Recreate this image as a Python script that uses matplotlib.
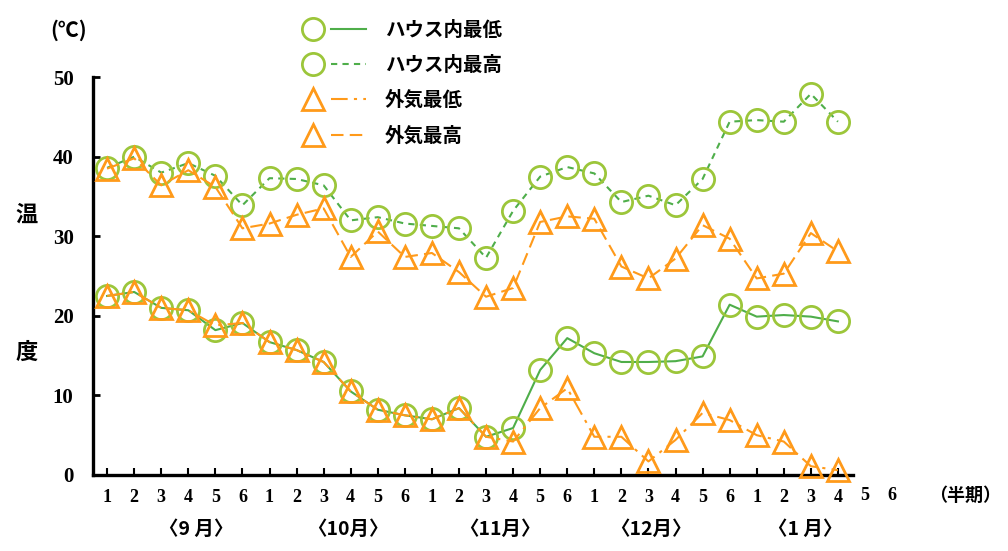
import matplotlib
matplotlib.use("Agg")
import matplotlib.pyplot as plt
import matplotlib.transforms as mtransforms
from matplotlib.lines import Line2D
from matplotlib.legend_handler import HandlerTuple

# ---- data ----
half_labels = ["1", "2", "3", "4", "5", "6"] * 5
months = ["〈9 月〉", "〈10月〉", "〈11月〉", "〈12月〉", "〈1 月〉"]
month_pos = [3.3, 8.9, 14.5, 20.1, 25.8]

house_min = [22.5, 23.0, 21.0, 20.7, 18.2, 19.1, 16.7, 15.7, 14.2, 10.5,
             8.2, 7.5, 7.0, 8.4, 4.8, 5.9, 13.2, 17.2, 15.3, 14.2,
             14.2, 14.3, 14.9, 21.4, 19.9, 20.1, 19.9, 19.3]
house_max = [38.6, 40.0, 38.0, 39.2, 37.6, 33.9, 37.3, 37.2, 36.4, 32.0,
             32.4, 31.6, 31.3, 31.0, 27.3, 33.2, 37.5, 38.7, 37.9, 34.3,
             35.1, 33.9, 37.2, 44.4, 44.6, 44.4, 47.9, 44.4]
out_min = [22.5, 23.0, 21.0, 20.7, 18.8, 19.1, 16.7, 15.7, 14.2, 10.5,
           8.2, 7.5, 7.0, 8.4, 4.8, 4.2, 8.4, 10.9, 4.8, 4.8,
           1.7, 4.4, 7.8, 6.9, 5.0, 4.2, 1.1, 0.6]
out_max = [38.5, 39.8, 36.4, 38.3, 36.2, 31.0, 31.6, 32.7, 33.5, 27.4,
           30.6, 27.4, 27.9, 25.5, 22.4, 23.5, 31.8, 32.5, 32.2, 26.2,
           24.7, 27.2, 31.4, 29.7, 24.7, 25.3, 30.4, 28.1]
series_names = ["ハウス内最低", "ハウス内最高", "外気最低", "外気最高"]

GREEN_LINE = "#4fae4a"
CIRCLE = "#9cc63a"
ORANGE = "#ff9a1a"
JP = ["Noto Sans CJK JP", "DejaVu Sans"]
NUM = "Liberation Serif"

fig = plt.figure(figsize=(10.08, 5.51), dpi=100)
ax = fig.add_axes([0.0923, 0.138, 0.754, 0.722])

x = list(range(len(house_min)))
ms_c = 16
ms_t = 16
mew = 2.0
lw = 1.5

ax.plot(x, house_min, color=GREEN_LINE, lw=lw, ls="-", zorder=2, clip_on=False)
ax.plot(x, house_min, ls="none", marker="o", ms=ms_c, mfc="none", mec=CIRCLE, mew=mew, zorder=3, clip_on=False)
ax.plot(x, house_max, color=GREEN_LINE, lw=lw, ls=(0, (3, 2.5)), zorder=2, clip_on=False)
ax.plot(x, house_max, ls="none", marker="o", ms=ms_c, mfc="none", mec=CIRCLE, mew=mew, zorder=3, clip_on=False)
ax.plot(x, out_min, color=ORANGE, lw=lw, ls=(0, (8, 3, 1.5, 3)), zorder=4, clip_on=False)
ax.plot(x, out_min, ls="none", marker="^", ms=ms_t, mfc="none", mec=ORANGE, mew=mew, zorder=5, clip_on=False)
ax.plot(x, out_max, color=ORANGE, lw=lw, ls=(0, (6, 3)), zorder=4, clip_on=False)
ax.plot(x, out_max, ls="none", marker="^", ms=ms_t, mfc="none", mec=ORANGE, mew=mew, zorder=5, clip_on=False)

ax.set_xlim(-0.52, 27.56)
ax.set_ylim(0, 50)
for s in ["top", "right"]:
    ax.spines[s].set_visible(False)
for s in ["left", "bottom"]:
    ax.spines[s].set_linewidth(2.4)
    ax.spines[s].set_color("black")

ax.set_yticks([0, 10, 20, 30, 40, 50])
ax.set_yticklabels(["0", "10", "20", "30", "40", "50"], fontfamily=NUM,
                   fontweight="bold", fontsize=15)
ax.tick_params(axis="y", direction="in", length=5, width=2, pad=14)
ax.set_xticks(x)
ax.set_xticklabels(half_labels[:len(x)], fontfamily=NUM, fontweight="bold", fontsize=13)
ax.tick_params(axis="x", direction="in", length=5, width=1.5, pad=10)

trans = mtransforms.blended_transform_factory(ax.transData, ax.transAxes)
for i in range(len(x), len(half_labels)):
    ax.text(i, -0.052, half_labels[i], transform=trans, ha="center", va="center",
            fontfamily=NUM, fontweight="bold", fontsize=13, clip_on=False)
ax.text(len(half_labels) + 1.7, -0.052, "（半期）", transform=trans, ha="center",
        va="center", family=JP, fontweight="bold", fontsize=13)

for p, m in zip(month_pos, months):
    ax.text(p, -0.137, m, transform=trans, ha="center", va="center",
            family=JP, fontweight="bold", fontsize=14)

fig.text(0.068, 0.945, "(℃)", ha="center", va="center", family=JP,
         fontweight="bold", fontsize=15)
fig.text(0.026, 0.61, "温", ha="center", va="center", family=JP, fontweight="bold", fontsize=16)
fig.text(0.026, 0.36, "度", ha="center", va="center", family=JP, fontweight="bold", fontsize=16)

def mk_handle(ls, color, marker, mec, msz):
    m = Line2D([], [], ls="none", marker=marker, ms=msz, mfc="none", mec=mec, mew=mew)
    l = Line2D([], [], ls=ls, color=color, lw=lw)
    return (m, l)

handles = [mk_handle("-", GREEN_LINE, "o", CIRCLE, ms_c),
           mk_handle((0, (3, 2.5)), GREEN_LINE, "o", CIRCLE, ms_c),
           mk_handle((0, (8, 3, 1.5, 3)), ORANGE, "^", ORANGE, ms_t),
           mk_handle((0, (6, 3)), ORANGE, "^", ORANGE, ms_t)]
leg = fig.legend(handles, series_names, handler_map={tuple: HandlerTuple(ndivide=None, pad=0)},
                 loc="upper left", bbox_to_anchor=(0.276, 0.994), frameon=False,
                 handlelength=3.6, handletextpad=1.0, labelspacing=0.82,
                 prop={"family": JP, "weight": "bold", "size": 14})

fig.savefig("out.png", dpi=100)
